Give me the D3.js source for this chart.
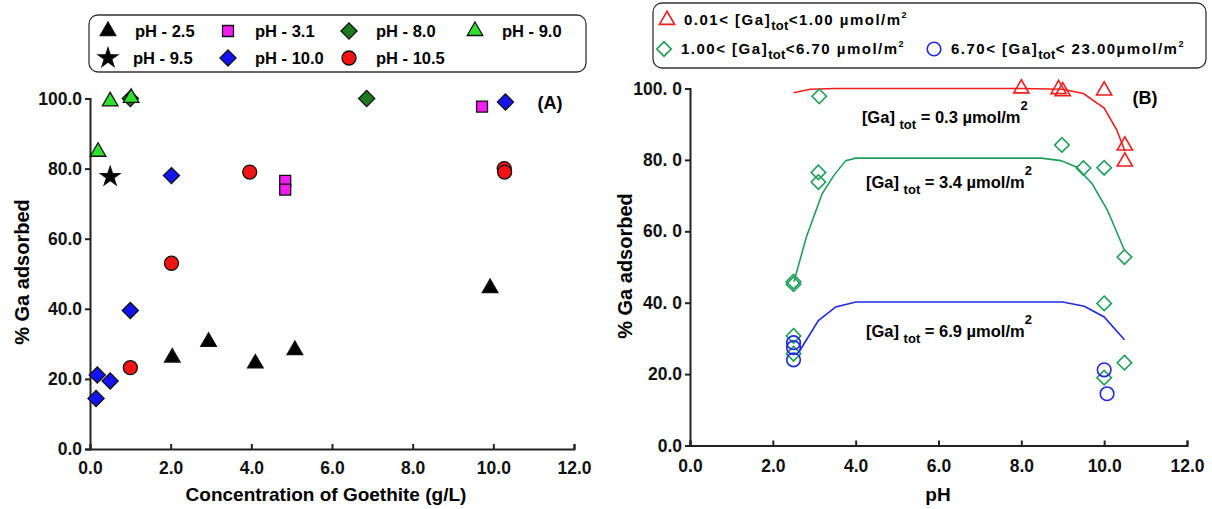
<!DOCTYPE html>
<html>
<head>
<meta charset="utf-8">
<script src="https://cdn.jsdelivr.net/npm/d3@7"></script>
<style>
  body { margin: 0; background: #fff; }
  svg { display: block; font-family: "Liberation Sans", Arial, sans-serif; font-weight: bold; }
  .axis path, .axis line { stroke: #222; stroke-width: 2; }
  .axis text { font-size: 17.5px; font-weight: bold; fill: #111; font-family: "Liberation Sans", Arial, sans-serif; }
</style>
</head>
<body>
<div id="chart"></div>
<script>
"use strict"

const WIDTH = 1212;
const HEIGHT = 509;

// ---- panel A : % Ga adsorbed vs goethite concentration ----
const legendA = ["pH - 2.5", "pH - 3.1", "pH - 8.0", "pH - 9.0", "pH - 9.5", "pH - 10.0", "pH - 10.5"];
const ph25 = [[2.04, 26.1], [2.94, 30.6], [4.1, 24.4], [5.08, 28.2], [9.92, 45.9]];
const ph31 = [[4.84, 76.5], [4.84, 74.0], [9.72, 97.7]];
const ph80 = [[1.0, 100.0], [6.86, 100.0]];
const ph90 = [[0.2, 84.8], [0.5, 99.2], [1.02, 100.2]];
const ph95 = [[0.5, 77.7]];
const ph100 = [[2.02, 78.0], [10.3, 99.0], [1.0, 39.5], [0.18, 21.1], [0.5, 19.4], [0.15, 14.4]];
const ph105 = [[3.96, 79.0], [10.27, 80.0], [10.28, 79.0], [2.02, 53.0], [1.0, 23.2]];
const xTicksA = ["0.0", "2.0", "4.0", "6.0", "8.0", "10.0", "12.0"];
const yTicksA = ["0.0", "20.0", "40.0", "60.0", "80.0", "100.0"];

// ---- panel B : % Ga adsorbed vs pH ----
const legendB = ["0.01", "1.00", "6.70"];
const lowGa = [[8.0, 100.0], [8.9, 99.8], [9.0, 99.2], [10.0, 99.4], [10.5, 84.0], [10.5, 79.5]];
const midGa = [[2.5, 45.9], [2.5, 45.2], [3.1, 76.5], [3.1, 73.8], [3.12, 97.8], [8.98, 84.2], [9.5, 77.7],
  [10.0, 77.8], [10.49, 52.8], [10.0, 39.8], [2.5, 30.7], [2.5, 25.7], [10.0, 19.0], [10.49, 23.2]];
const highGa = [[2.5, 28.8], [2.5, 27.4], [2.5, 24.0], [10.0, 21.2], [10.07, 14.5]];
const fitLow = [[2.5, 98.8], [2.9, 99.8], [3.5, 100.0], [8.0, 100.0], [9.0, 99.8], [9.5, 98.6],
  [10.0, 94.5], [10.3, 88.5], [10.5, 82.5]];
const fitMid = [[2.51, 45.9], [2.81, 58.4], [3.19, 70.5], [3.47, 75.6], [3.76, 79.8], [4.0, 80.5],
  [8.48, 80.5], [8.95, 79.8], [9.33, 78.0], [9.71, 73.3], [10.08, 65.9], [10.49, 54.7]];
const fitHigh = [[2.63, 26.2], [3.1, 35.0], [3.52, 38.8], [4.0, 40.2], [9.0, 40.2], [9.52, 39.0],
  [10.0, 36.0], [10.49, 29.6]];
const xTicksB = ["0.0", "2.0", "4.0", "6.0", "8.0", "10.0", "12.0"];
const yTicksB = ["0.0", "20.0", "40. 0", "60. 0", "80. 0", "100. 0"];

const svg = d3.select("#chart").append("svg")
  .attr("width", WIDTH)
  .attr("height", HEIGHT);

svg.append("rect").attr("width", WIDTH).attr("height", HEIGHT).attr("fill", "#fff");

function sym(type, size) { return d3.symbol().type(type).size(size)(); }

function drawAxes(x, y, xLabels, yLabels, xpad, ypad)
{
  const xAxis = d3.axisBottom(x)
    .tickValues(d3.range(0, 13, 2))
    .tickFormat((d, i) => xLabels[i])
    .tickSizeInner(-5).tickSizeOuter(-5).tickPadding(xpad);
  const yAxis = d3.axisLeft(y)
    .tickValues(d3.range(0, 101, 20))
    .tickFormat((d, i) => yLabels[i])
    .tickSizeInner(5).tickSizeOuter(5).tickPadding(ypad);
  svg.append("g").attr("class", "axis")
    .attr("transform", "translate(0," + y(0) + ")")
    .call(xAxis)
    .selectAll("text").attr("dy", "0.71em");
  svg.append("g").attr("class", "axis")
    .attr("transform", "translate(" + x(0) + ",0)")
    .call(yAxis);
  svg.selectAll(".axis .domain").attr("fill", "none");
}

// ================= panel A =================
const xA = d3.scaleLinear().domain([0, 12]).range([90, 574]);
const yA = d3.scaleLinear().domain([0, 100]).range([449, 98.5]);
drawAxes(xA, yA, xTicksA, yTicksA, 13, 3);

const seriesA = [
  { data: ph25, shape: sym(d3.symbolTriangle, 105), fill: "#000", rot: 0 },
  { data: ph31, shape: sym(d3.symbolSquare, 120), fill: "#f21cf2", rot: 0 },
  { data: ph80, shape: sym(d3.symbolSquare, 130), fill: "#1c7a1c", rot: 45 },
  { data: ph90, shape: sym(d3.symbolTriangle, 105), fill: "#2fe02f", rot: 0 },
  { data: ph95, shape: sym(d3.symbolStar, 115), fill: "#000", rot: 0 },
  { data: ph100, shape: sym(d3.symbolSquare, 130), fill: "#1414f0", rot: 45 },
  { data: ph105, shape: sym(d3.symbolCircle, 155), fill: "#f01414", rot: 0 }
];

seriesA.forEach(function(s) {
  svg.append("g").selectAll("path")
    .data(s.data)
    .enter().append("path")
    .attr("d", s.shape)
    .attr("transform", d => "translate(" + xA(d[0]) + "," + yA(d[1]) + ") rotate(" + s.rot + ")")
    .attr("fill", s.fill)
    .attr("stroke", "#111")
    .attr("stroke-width", 1.3);
});

svg.append("text").attr("x", 550).attr("y", 109).attr("text-anchor", "middle")
  .attr("font-size", 18).text("(A)");

svg.append("text")
  .attr("transform", "translate(29,272) rotate(-90)")
  .attr("text-anchor", "middle").attr("font-size", 20)
  .text("% Ga adsorbed");
svg.append("text").attr("x", 326).attr("y", 501).attr("text-anchor", "middle")
  .attr("font-size", 19).text("Concentration of Goethite (g/L)");

// legend A
svg.append("rect").attr("x", 89).attr("y", 15).attr("width", 497).attr("height", 57)
  .attr("rx", 9).attr("fill", "#fff").attr("stroke", "#333").attr("stroke-width", 1.3);
const legPosA = [[108, 31], [228, 31], [349, 31], [475, 31], [108, 58], [228, 58], [349, 58]];
legendA.forEach(function(name, i) {
  const s = seriesA[i];
  const p = legPosA[i];
  svg.append("path").attr("d", s.shape)
    .attr("transform", "translate(" + p[0] + "," + p[1] + ") rotate(" + s.rot + ")")
    .attr("fill", s.fill).attr("stroke", "#111").attr("stroke-width", 1.3);
  svg.append("text").attr("x", p[0] + (i == 4 ? 25 : 27)).attr("y", p[1] + 6)
    .attr("font-size", 16.5).text(name);
});

// ================= panel B =================
const xB = d3.scaleLinear().domain([0, 12]).range([690, 1187]);
const yB = d3.scaleLinear().domain([0, 100]).range([445.5, 88.5]);
drawAxes(xB, yB, xTicksB, yTicksB, 14, 3);

const line = d3.line().x(d => xB(d[0])).y(d => yB(d[1])).curve(d3.curveLinear);
const fits = [[fitLow, "#f01e1e"], [fitMid, "#1f9e5a"], [fitHigh, "#2028e0"]];
fits.forEach(function(f) {
  svg.append("path").datum(f[0]).attr("d", line)
    .attr("fill", "none").attr("stroke", f[1]).attr("stroke-width", 1.6);
});

const seriesB = [
  { data: lowGa, shape: sym(d3.symbolTriangle, 100), color: "#f01e1e", rot: 0 },
  { data: midGa, shape: sym(d3.symbolSquare, 105), color: "#1f9e5a", rot: 45 },
  { data: highGa, shape: sym(d3.symbolCircle, 145), color: "#2028e0", rot: 0 }
];
seriesB.forEach(function(s) {
  svg.append("g").selectAll("path")
    .data(s.data)
    .enter().append("path")
    .attr("d", s.shape)
    .attr("transform", d => "translate(" + xB(d[0]) + "," + yB(d[1]) + ") rotate(" + s.rot + ")")
    .attr("fill", "none")
    .attr("stroke", s.color)
    .attr("stroke-width", 1.6);
});

svg.append("text").attr("x", 1145).attr("y", 104).attr("text-anchor", "middle")
  .attr("font-size", 18).text("(B)");

// curve labels
const fitLabels = [["0.3", 4.15, 90.3], ["3.4", 4.25, 72.0], ["6.9", 4.25, 30.5]];
fitLabels.forEach(function(l) {
  const t = svg.append("text").attr("x", xB(l[1])).attr("y", yB(l[2])).attr("font-size", 16.5);
  t.append("tspan").text("[Ga] ");
  t.append("tspan").attr("dy", 6).attr("font-size", 13).text("tot");
  t.append("tspan").attr("dy", -6).text(" = " + l[0] + " \u00b5mol/m");
  t.append("tspan").attr("dy", -13).attr("font-size", 13).text("2");
});

svg.append("text")
  .attr("transform", "translate(632,266) rotate(-90)")
  .attr("text-anchor", "middle").attr("font-size", 20)
  .text("% Ga adsorbed");
svg.append("text").attr("x", 938).attr("y", 501).attr("text-anchor", "middle")
  .attr("font-size", 19).text("pH");

// legend B
svg.append("rect").attr("x", 653).attr("y", 3).attr("width", 553).attr("height", 65)
  .attr("rx", 9).attr("fill", "#fff").attr("stroke", "#333").attr("stroke-width", 1.3);
const legLimits = [["0.01", "1.00 \u00b5mol/m"], ["1.00", "6.70 \u00b5mol/m"], ["6.70", " 23.00\u00b5mol/m"]];
const legPosB = [[667, 20], [664, 49], [934, 49]];
legendB.forEach(function(name, i) {
  const s = seriesB[i];
  const p = legPosB[i];
  svg.append("path").attr("d", s.shape)
    .attr("transform", "translate(" + p[0] + "," + p[1] + ") rotate(" + s.rot + ")")
    .attr("fill", "none").attr("stroke", s.color).attr("stroke-width", 1.6);
  const t = svg.append("text").attr("x", p[0] + 17).attr("y", p[1] + 5)
    .attr("font-size", 15).attr("letter-spacing", 1.5);
  t.append("tspan").text(name + "< [Ga]");
  t.append("tspan").attr("dy", 5).attr("font-size", 13).attr("letter-spacing", 0.3).text("tot");
  t.append("tspan").attr("dy", -5).text("<" + legLimits[i][1]);
  t.append("tspan").attr("dy", -7).attr("font-size", 9).attr("letter-spacing", 0).text("2");
});
</script>
</body>
</html>
